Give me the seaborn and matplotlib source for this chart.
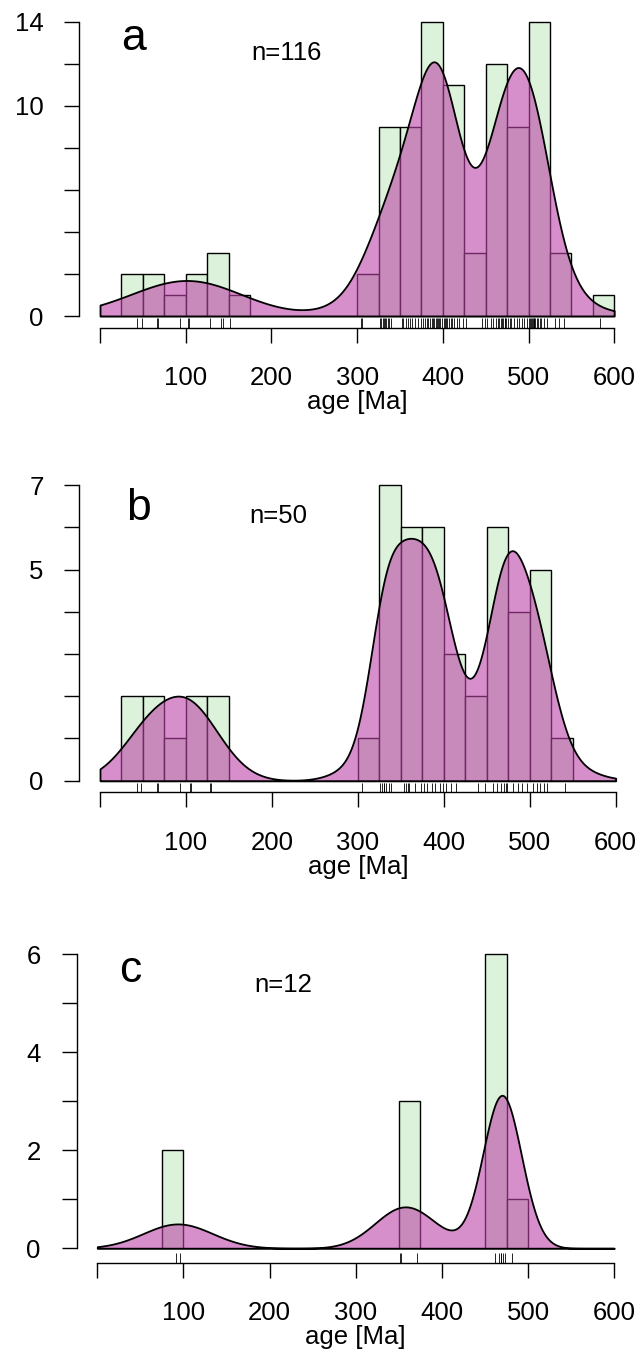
import numpy as np
import matplotlib
matplotlib.use("Agg")
import matplotlib.pyplot as plt
import seaborn as sns

# detrital ages [Ma] (binned to match the histograms)
ages_a = [43, 49, 66, 68, 93, 103, 104, 128, 141, 143, 152,
          305, 306,
          327, 328, 330, 331, 333, 334, 336, 337, 339,
          352, 354, 357, 359, 362, 364, 368, 371, 374,
          377, 379, 381, 383, 385, 387, 389, 390, 392, 393, 394, 396, 397, 399,
          401, 402, 404, 405, 407, 409, 411, 413, 416, 419, 423,
          427, 446, 449,
          452, 456, 459, 462, 464, 466, 468, 469, 470, 472, 473, 474,
          476, 478, 480, 483, 486, 489, 492, 495, 498,
          501, 502, 503, 504, 505, 506, 507, 508, 510, 511, 513, 515, 518, 522,
          531, 536, 541,
          583]
ages_b = [43, 48, 66, 68, 93, 105, 106, 128, 129,
          305,
          326, 328, 330, 331, 333, 336, 339,
          354, 356, 358, 360, 366, 374,
          377, 381, 386, 390, 395, 399,
          403, 408, 414,
          440, 448,
          457, 462, 466, 470, 472, 474,
          480, 486, 491, 497,
          504, 508, 512, 516, 520,
          541]
ages_c = [91, 96, 351, 353, 371, 462, 466, 468, 469, 471, 473, 481]

letters = ["a", "b", "c"]
n_labels = ["n=116", "n=50", "n=12"]
y_tops = [14, 7, 6]
y_steps = [2, 1, 1]
y_labelled = [[0, 10, 14], [0, 5, 7], [0, 2, 4, 6]]
x_ticks = [0, 100, 200, 300, 400, 500, 600]
x_ticklabels = ["", "100", "200", "300", "400", "500", "600"]

binwidth = 25
bins = np.arange(0, 600 + binwidth, binwidth)
hist_col = "#dcf2db"
kde_col = (187 / 255, 68 / 255, 167 / 255, 0.6)


def adaptive_kde(ages, h, grid):
    # Abramson-style adaptive gaussian KDE, scaled to histogram counts
    x = np.asarray(ages, float)
    pilot = np.exp(-0.5 * ((x[:, None] - x[None, :]) / h) ** 2).sum(axis=1)
    lam = np.sqrt(np.exp(np.log(pilot).mean()) / pilot)
    s = h * lam
    k = np.exp(-0.5 * ((grid[:, None] - x[None, :]) / s) ** 2) / (s * np.sqrt(2 * np.pi))
    return binwidth * k.sum(axis=1)


sns.set_theme(style="ticks")
plt.rcParams["font.family"] = ["Liberation Sans", "DejaVu Sans"]
plt.rcParams["axes.linewidth"] = 1.0
plt.rcParams["text.color"] = "black"
plt.rcParams["axes.labelcolor"] = "black"
plt.rcParams["axes.edgecolor"] = "black"

W, H = 644, 1356
fig = plt.figure(figsize=(W / 100, H / 100), dpi=100)

# pixel layout of each panel: x of age 0, px per Ma, y of count 0, px per count, y of x-axis
layout = [(100.0, 0.857, 316.0, 21.02, 327.5),
          (100.0, 0.8595, 780.7, 42.24, 792.3),
          (97.3, 0.8617, 1248.3, 49.05, 1262.7)]
bandwidths = [26.5, 21, 27]
letter_pos = [(121, 50), (126, 520), (119, 982)]
n_pos = [(251, 60), (249, 523), (254, 992)]

grid = np.linspace(0, 600, 601)
for i, ages in enumerate([ages_a, ages_b, ages_c]):
    x0, xs, y0, ys, yb = layout[i]
    xlo, xhi = -24, 624
    ylo = -(yb - y0) / ys
    yhi = ylo + 318 / ys
    left = (x0 + xlo * xs) / W
    ax = fig.add_axes([left, 1 - yb / H, (xhi - xlo) * xs / W, 318 / H])

    sns.histplot(x=ages, bins=bins, stat="count", color=hist_col, alpha=1,
                 edgecolor="black", linewidth=1.0, ax=ax, zorder=1)
    dens = adaptive_kde(ages, bandwidths[i], grid)
    ax.fill_between(grid, dens, facecolor=kde_col, edgecolor="black",
                    linewidth=1.3, zorder=2)
    sns.rugplot(x=ages, height=0.03, color="black", linewidth=0.6, ax=ax,
                expand_margins=False)

    ax.set_xlim(xlo, xhi)
    ax.set_ylim(ylo, yhi)
    yt = np.arange(0, y_tops[i] + 1, y_steps[i])
    ax.set_yticks(yt)
    ax.set_yticklabels([str(v) if v in y_labelled[i] else "" for v in yt])
    ax.set_xticks(x_ticks)
    ax.set_xticklabels(x_ticklabels)
    sns.despine(ax=ax)
    ax.spines["left"].set_bounds(0, y_tops[i])
    ax.spines["bottom"].set_bounds(0, 600)
    ax.tick_params(axis="both", direction="out", length=10.8, width=1.0,
                   labelsize=18.5, colors="black")
    ax.tick_params(axis="x", pad=17)
    ax.tick_params(axis="y", pad=15)
    ax.set_ylabel("")
    ax.set_xlabel("age [Ma]", fontsize=18.5, labelpad=0, color="black")
    ax.patch.set_visible(False)

    fig.text(letter_pos[i][0] / W, 1 - letter_pos[i][1] / H, letters[i],
             fontsize=32, va="baseline", ha="left", color="black")
    fig.text(n_pos[i][0] / W, 1 - n_pos[i][1] / H, n_labels[i],
             fontsize=18.5, va="baseline", ha="left", color="black")

fig.savefig("out.png", dpi=100)
